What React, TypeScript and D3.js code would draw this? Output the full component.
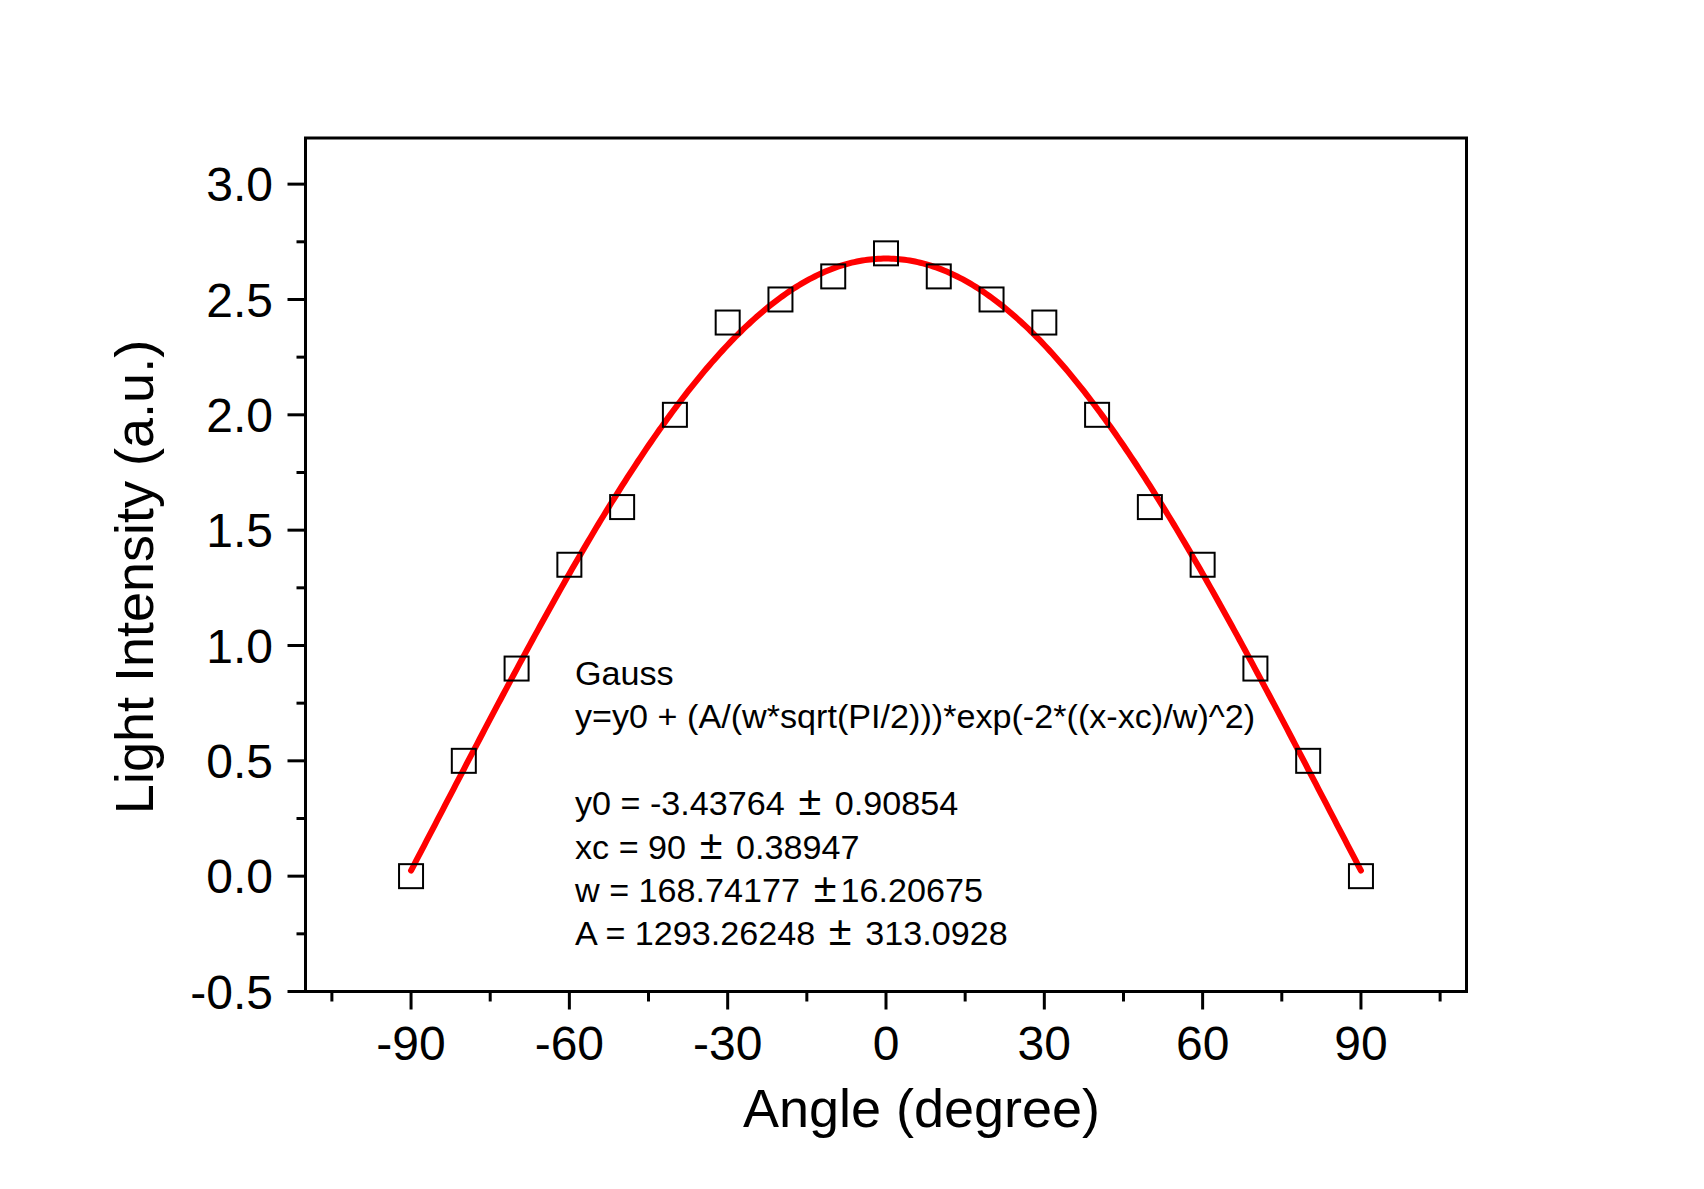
import React from "react";
import * as d3 from "d3";

// Measured data (angle in degrees, light intensity a.u.)
const angles = [-90, -80, -70, -60, -50, -40, -30, -20, -10, 0, 10, 20, 30, 40, 50, 60, 70, 80, 90];
const intensity = [0.0, 0.5, 0.9, 1.35, 1.6, 2.0, 2.4, 2.5, 2.6, 2.7, 2.6, 2.5, 2.4, 2.0, 1.6, 1.35, 0.9, 0.5, 0.0];

// Fit parameters (Gauss fit, x measured on 0..180 scale)
const fitY0 = -3.43764;
const fitXc = 90;
const fitW = 168.74177;
const fitA = 1293.26248;

const xMajorTicks = [-90, -60, -30, 0, 30, 60, 90];
const xMinorTicks = [-105, -75, -45, -15, 15, 45, 75, 105];
const yMajorTicks = [-0.5, 0.0, 0.5, 1.0, 1.5, 2.0, 2.5, 3.0];
const yMinorTicks = [-0.25, 0.25, 0.75, 1.25, 1.75, 2.25, 2.75];

const annotationLines = [
  "Gauss",
  "y=y0 + (A/(w*sqrt(PI/2)))*exp(-2*((x-xc)/w)^2)",
  "",
  "y0 = -3.43764 \u00B1 0.90854",
  "xc = 90 \u00B1 0.38947",
  "w = 168.74177 \u00B116.20675",
  "A = 1293.26248 \u00B1 313.0928",
];

const W = 1704;
const H = 1189;
const left = 305.5;
const right = 1466.5;
const top = 138;
const bottom = 991.5;

const FONT = "'Liberation Sans', Arial, Helvetica, sans-serif";

export default function App() {
  const x = d3.scaleLinear().domain([-110, 110]).range([left, right]);
  const y = d3.scaleLinear().domain([-0.5, 3.2]).range([bottom, top]);

  const curveX = d3.range(-90, 90.01, 0.5);
  const gauss = (a: number) => {
    const xx = a + 90;
    return fitY0 + (fitA / (fitW * Math.sqrt(Math.PI / 2))) * Math.exp(-2 * Math.pow((xx - fitXc) / fitW, 2));
  };
  const line = d3
    .line<number>()
    .x((d) => x(d))
    .y((d) => y(gauss(d)))
    .curve(d3.curveLinear);

  const sq = 24;
  const annX = 575;
  const annBaselines = [685, 727.5, 771, 815, 858.5, 902, 945];

  const renderLine = (s: string) => {
    const parts = s.split("\u00B1");
    const out: React.ReactNode[] = [];
    parts.forEach((p, j) => {
      if (j > 0) {
        out.push(
          <tspan key={"pm" + j} fontSize={40} dx={4}>
            {"\u00B1"}
          </tspan>
        );
        out.push(
          <tspan key={"t" + j} dx={4}>
            {p}
          </tspan>
        );
      } else {
        out.push(<tspan key={"t" + j}>{p}</tspan>);
      }
    });
    return out;
  };

  return (
    <svg
      width={W}
      height={H}
      style={{ position: "absolute", left: 0, top: 0, background: "#fff" }}
      fontFamily={FONT}
    >
      <rect x={0} y={0} width={W} height={H} fill="#fff" />
      {/* fit curve */}
      <path d={line(curveX) || ""} fill="none" stroke="#ff0000" strokeWidth={6} strokeLinecap="round" />
      {/* data squares */}
      {angles.map((a, i) => (
        <rect
          key={i}
          x={x(a) - sq / 2}
          y={y(intensity[i]) - sq / 2}
          width={sq}
          height={sq}
          fill="none"
          stroke="#000"
          strokeWidth={2}
        />
      ))}
      {/* frame */}
      <rect x={left} y={top} width={right - left} height={bottom - top} fill="none" stroke="#000" strokeWidth={3} />
      {/* x ticks */}
      {xMajorTicks.map((t) => (
        <g key={"xm" + t}>
          <line x1={x(t)} x2={x(t)} y1={bottom} y2={bottom + 18} stroke="#000" strokeWidth={3} />
          <text x={x(t)} y={1060} fontSize={48} textAnchor="middle" fill="#000">
            {t}
          </text>
        </g>
      ))}
      {xMinorTicks.map((t) => (
        <line key={"xn" + t} x1={x(t)} x2={x(t)} y1={bottom} y2={bottom + 10} stroke="#000" strokeWidth={3} />
      ))}
      {/* y ticks */}
      {yMajorTicks.map((t) => (
        <g key={"ym" + t}>
          <line x1={left} x2={left - 18} y1={y(t)} y2={y(t)} stroke="#000" strokeWidth={3} />
          <text x={273} y={y(t)} dy="0.358em" fontSize={48} textAnchor="end" fill="#000">
            {t.toFixed(1)}
          </text>
        </g>
      ))}
      {yMinorTicks.map((t) => (
        <line key={"yn" + t} x1={left} x2={left - 9} y1={y(t)} y2={y(t)} stroke="#000" strokeWidth={3} />
      ))}
      {/* axis titles */}
      <text x={921.5} y={1126.5} fontSize={54} textAnchor="middle" fill="#000">
        Angle (degree)
      </text>
      <text
        transform={`translate(153, 577) rotate(-90)`}
        fontSize={54}
        textAnchor="middle"
        fill="#000"
      >
        Light Intensity (a.u.)
      </text>
      {/* annotation */}
      {annotationLines.map((s, i) =>
        s ? (
          <text
            key={"a" + i}
            transform={`translate(${annX}, ${annBaselines[i]}) scale(1.035, 1)`}
            fontSize={33}
            fill="#000"
          >
            {renderLine(s)}
          </text>
        ) : null
      )}
    </svg>
  );
}
